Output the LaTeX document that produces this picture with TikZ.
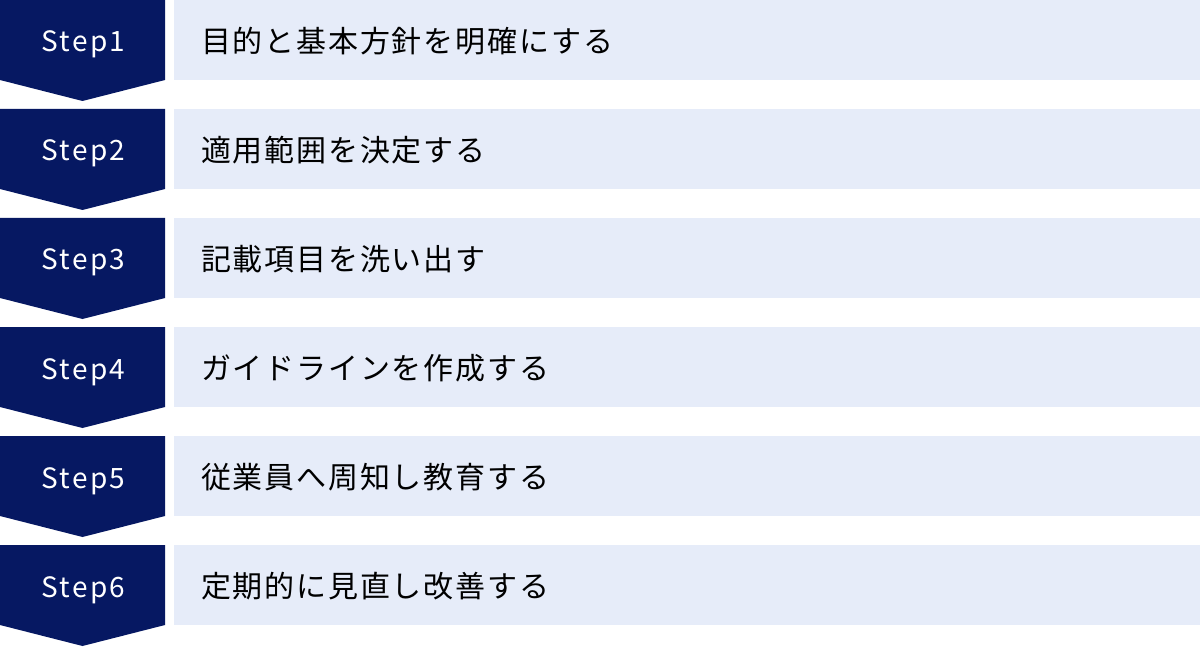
\documentclass[tikz,border=0pt]{standalone}
\usepackage{fontspec}
\setmainfont{Noto Sans CJK JP}
\newfontfamily\stepfont[LetterSpace=8]{Noto Sans CJK JP}
\newfontfamily\jpfont[LetterSpace=6]{Noto Sans CJK JP}
\definecolor{navy}{HTML}{061862}
\definecolor{lightbg}{HTML}{E6ECF9}
\begin{document}
\begin{tikzpicture}[x=1pt,y=-1pt,
  steplabel/.style={text=white,font=\stepfont\fontsize{28}{30}\selectfont,anchor=base,inner sep=0pt},
  itemlabel/.style={text=black,font=\jpfont\fontsize{30}{36}\selectfont,anchor=west,inner sep=0pt}]
\useasboundingbox (0,0) rectangle (1200,647);
\fill[white] (0,0) rectangle (1200,647);
\foreach \i/\t in {1/目的と基本方針を明確にする,2/適用範囲を決定する,3/記載項目を洗い出す,4/ガイドラインを作成する,5/従業員へ周知し教育する,6/定期的に見直し改善する}{
  \pgfmathsetmacro{\y}{(\i-1)*109}
  \fill[navy] (0,\y) -- (165,\y) -- (165,\y+80) -- (82.5,\y+101) -- (0,\y+80) -- cycle;
  \fill[lightbg] (174,\y) rectangle (1200,\y+80);
  \node[steplabel] (s\i) at (83.5,\y+52) {Step\i};
  \node[itemlabel] (t\i) at (201,\y+41) {\t};
}
\end{tikzpicture}
\end{document}
